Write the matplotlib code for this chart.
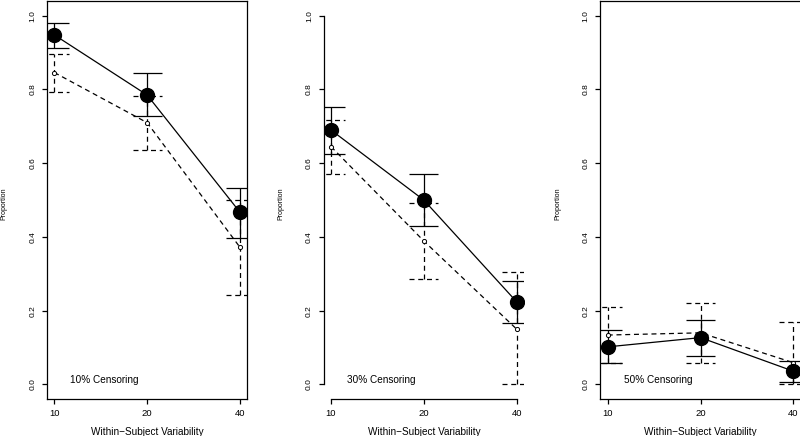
import matplotlib
matplotlib.use('Agg')
import matplotlib.pyplot as plt

plt.rcParams['font.family'] = ['Liberation Sans', 'DejaVu Sans']

# x categories (evenly spaced positions)
variability = ['10', '20', '40']
positions = [1, 2, 3]
panels = ['10% Censoring', '30% Censoring', '50% Censoring']

# solid series: estimate, lower, upper
solid_est = [[0.948, 0.785, 0.467], [0.690, 0.500, 0.224], [0.102, 0.127, 0.036]]
solid_lo = [[0.913, 0.728, 0.396], [0.625, 0.430, 0.167], [0.057, 0.078, 0.007]]
solid_hi = [[0.979, 0.844, 0.533], [0.753, 0.571, 0.281], [0.147, 0.175, 0.063]]

# dashed series: estimate, lower, upper
dash_est = [[0.846, 0.710, 0.372], [0.645, 0.389, 0.150], [0.134, 0.140, 0.059]]
dash_lo = [[0.794, 0.636, 0.242], [0.571, 0.285, 0.000], [0.059, 0.059, 0.000]]
dash_hi = [[0.896, 0.783, 0.499], [0.717, 0.493, 0.306], [0.211, 0.222, 0.170]]

W, H = 800, 436
fig = plt.figure(figsize=(8, 4.36), dpi=100)

lefts = [46.9, 323.6, 600.3]
width = 200.5
bottom_px = 399.2
height_px = 398.2
cap = 0.155
dash = (0, (4, 3))
lw = 0.9

for i in range(3):
    ax = fig.add_axes([lefts[i] / W, (H - bottom_px) / H, width / W, height_px / H])
    ax.set_xlim(0.92, 3.08)
    ax.set_ylim(-0.04, 1.04)

    # dashed series
    ax.plot(positions, dash_est[i], color='black', lw=lw, linestyle=dash, zorder=2)
    ax.vlines(positions, dash_lo[i], dash_hi[i], color='black', lw=lw, linestyle=dash, zorder=2)
    for p, lo, hi in zip(positions, dash_lo[i], dash_hi[i]):
        ax.hlines([lo, hi], p - cap, p + cap, color='black', lw=lw, linestyle=dash, zorder=2)
    ax.plot(positions, dash_est[i], linestyle='none', marker='o', ms=3.0,
            mfc='white', mec='black', mew=0.7, zorder=4)

    # solid series
    ax.plot(positions, solid_est[i], color='black', lw=lw, zorder=3)
    ax.vlines(positions, solid_lo[i], solid_hi[i], color='black', lw=lw, zorder=3)
    for p, lo, hi in zip(positions, solid_lo[i], solid_hi[i]):
        ax.hlines([lo, hi], p - cap, p + cap, color='black', lw=lw, zorder=3)
    ax.plot(positions, solid_est[i], linestyle='none', marker='o', ms=10,
            mfc='black', mec='black', zorder=5)

    ax.text(1.17, 0.012, panels[i], ha='left', va='center', fontsize=7.2)

    ax.set_xticks(positions)
    ax.set_xticklabels(variability)
    ax.set_yticks([0.0, 0.2, 0.4, 0.6, 0.8, 1.0])
    ax.set_yticklabels(['0.0', '0.2', '0.4', '0.6', '0.8', '1.0'], rotation=90, va='center')
    ax.tick_params(axis='x', direction='out', length=3.6, width=lw, labelsize=6.8, pad=3.5)
    ax.tick_params(axis='y', direction='out', length=3.6, width=lw, labelsize=6, pad=4)

    ax.set_xlabel('Within\u2212Subject Variability', fontsize=7.2)
    ax.xaxis.set_label_coords(0.5, -0.071)
    ax.set_ylabel('Proportion', fontsize=5)
    ax.yaxis.set_label_coords(-0.195, 0.49)

    for s in ax.spines.values():
        s.set_linewidth(lw)
    if i == 1:
        ax.spines['top'].set_visible(False)
        ax.spines['right'].set_visible(False)
        ax.spines['left'].set_bounds(0, 1)
        ax.spines['bottom'].set_bounds(1, 3)

fig.savefig('out.png', dpi=100)
